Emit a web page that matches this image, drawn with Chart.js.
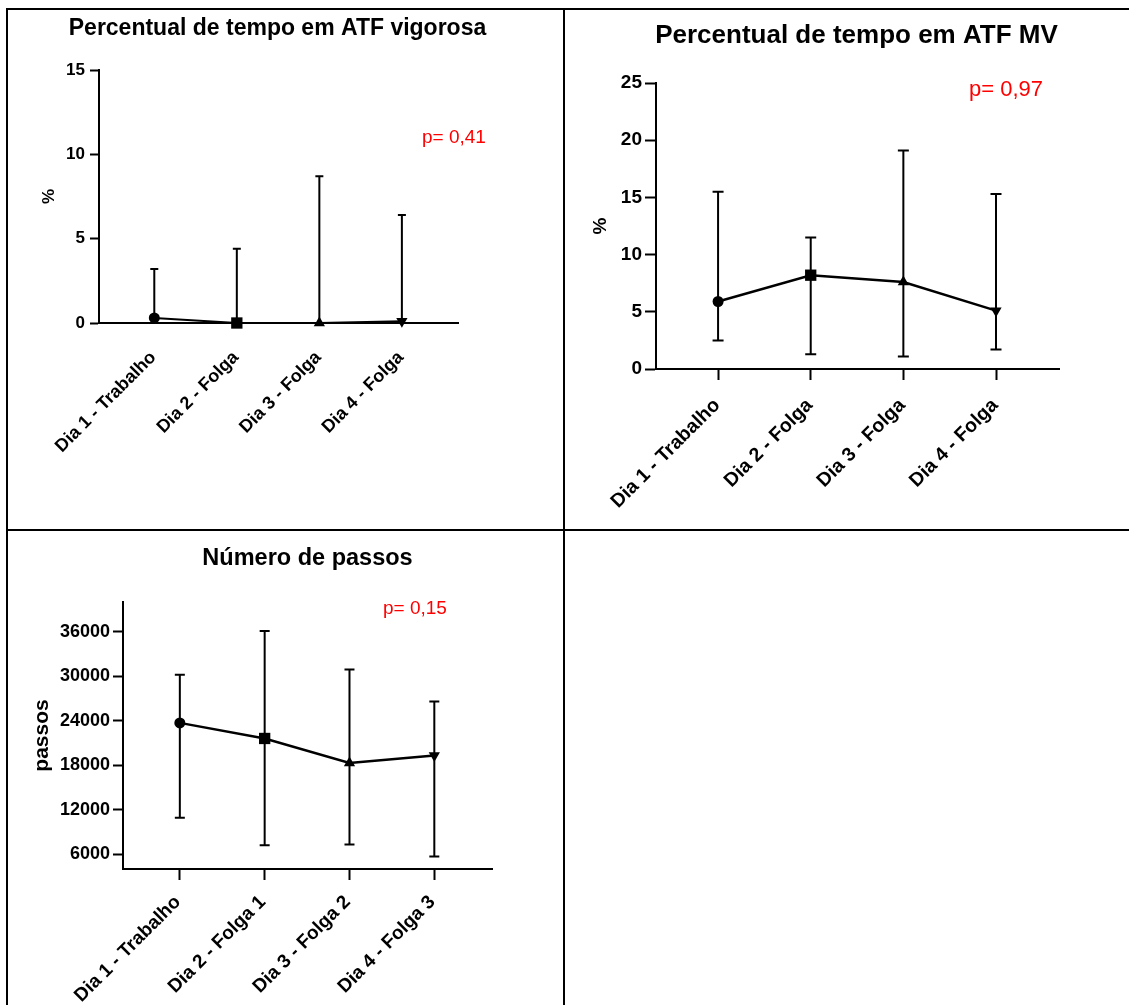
<!DOCTYPE html>
<html>
<head>
<meta charset="utf-8">
<script src="https://cdn.jsdelivr.net/npm/chart.js@4.4.0/dist/chart.umd.min.js"></script>
<style>
  html, body { margin: 0; padding: 0; background: #fff; }
  body { width: 1129px; height: 1005px; position: relative; overflow: hidden; }
  .rule { position: absolute; background: #000; }
  .cell { position: absolute; }
  canvas { display: block; }
</style>
</head>
<body>
<div class="rule" style="left:6px;top:8px;width:1123px;height:2px"></div>
<div class="rule" style="left:6px;top:8px;width:2px;height:997px"></div>
<div class="rule" style="left:563px;top:8px;width:2px;height:997px"></div>
<div class="rule" style="left:6px;top:529px;width:1123px;height:2px"></div>

<div class="cell" style="left:8px;top:10px"><canvas id="vigChart" width="555" height="519"></canvas></div>
<div class="cell" style="left:565px;top:10px"><canvas id="mvChart" width="564" height="519"></canvas></div>
<div class="cell" style="left:8px;top:531px"><canvas id="passosChart" width="555" height="474"></canvas></div>

<script>
// categories
const diasFolga = ['Dia 1 - Trabalho', 'Dia 2 - Folga', 'Dia 3 - Folga', 'Dia 4 - Folga'];
const diasPassos = ['Dia 1 - Trabalho', 'Dia 2 - Folga 1', 'Dia 3 - Folga 2', 'Dia 4 - Folga 3'];

// ATF vigorosa (%): median and range
const vigMediana = [0.3, 0, 0, 0.1];
const vigMin = [0, 0, 0, 0];
const vigMax = [3.2, 4.4, 8.7, 6.4];
const vigTicks = [0, 5, 10, 15];

// ATF MV (%)
const mvMediana = [5.9, 8.2, 7.6, 5.1];
const mvMin = [2.5, 1.3, 1.1, 1.7];
const mvMax = [15.5, 11.5, 19.1, 15.3];
const mvTicks = [0, 5, 10, 15, 20, 25];

// Numero de passos
const passosMediana = [23700, 21600, 18300, 19300];
const passosMin = [10900, 7200, 7300, 5700];
const passosMax = [30200, 36100, 30900, 26600];
const passosTicks = [6000, 12000, 18000, 24000, 30000, 36000];

const FONT = "'Liberation Sans', Arial, sans-serif";
Chart.defaults.font.family = FONT;
Chart.defaults.color = '#000';

// whiskers drawn under the markers
const errorBars = {
  id: 'errorBars',
  beforeDatasetsDraw(chart, args, opts) {
    const {ctx, scales: {x, y}} = chart;
    ctx.save();
    ctx.strokeStyle = '#000';
    ctx.lineWidth = opts.width;
    opts.low.forEach((lo, i) => {
      const px = x.getPixelForValue(i + 1);
      const yLo = y.getPixelForValue(lo);
      const yHi = y.getPixelForValue(opts.high[i]);
      ctx.beginPath();
      ctx.moveTo(px, yLo);
      ctx.lineTo(px, yHi);
      ctx.moveTo(px - opts.cap, yHi);
      ctx.lineTo(px + opts.cap, yHi);
      ctx.moveTo(px - opts.cap, yLo);
      ctx.lineTo(px + opts.cap, yLo);
      ctx.stroke();
    });
    ctx.restore();
  }
};

// panel title and p value
const panelText = {
  id: 'panelText',
  afterDraw(chart, args, opts) {
    const ctx = chart.ctx;
    ctx.save();
    ctx.textBaseline = 'alphabetic';
    ctx.fillStyle = '#000';
    ctx.textAlign = 'center';
    ctx.font = 'bold ' + opts.titleSize + 'px ' + FONT;
    ctx.fillText(opts.title, opts.titleX, opts.titleY);
    ctx.fillStyle = '#ff0000';
    ctx.textAlign = 'left';
    ctx.font = opts.pSize + 'px ' + FONT;
    ctx.fillText(opts.pText, opts.pX, opts.pY);
    ctx.restore();
  }
};

function drawPanel(id, p) {
  return new Chart(document.getElementById(id), {
    type: 'line',
    data: {
      datasets: [{
        data: p.mediana.map((v, i) => ({x: i + 1, y: v})),
        borderColor: '#000',
        backgroundColor: '#000',
        borderWidth: p.lineWidth,
        tension: 0,
        pointStyle: ['circle', 'rect', 'triangle', 'triangle'],
        pointRotation: [0, 0, 0, 180],
        pointRadius: [5.5, 8, 6.5, 6.5],
        pointBorderWidth: 0,
        clip: false
      }]
    },
    plugins: [errorBars, panelText],
    options: {
      responsive: false,
      animation: false,
      layout: {padding: {left: p.padLeft, top: p.padTop, right: p.padRight, bottom: 0}},
      plugins: {
        legend: {display: false},
        tooltip: {enabled: false},
        errorBars: {low: p.low, high: p.high, cap: p.cap, width: 2},
        panelText: p.text
      },
      scales: {
        x: {
          type: 'linear',
          min: 0.33,
          max: 4.68,
          afterBuildTicks: s => { s.ticks = p.labels.map((l, i) => ({value: i + 1})); },
          afterFit: s => { s.height = p.xHeight; s.paddingLeft = 0; s.paddingRight = 0; },
          ticks: {
            callback: v => p.labels[v - 1],
            autoSkip: false,
            maxRotation: 45,
            minRotation: 45,
            padding: p.xPad,
            labelOffset: p.xOffset,
            font: {size: p.xFont, weight: 'bold'}
          },
          grid: {drawOnChartArea: false, drawTicks: p.xTickMarks, tickLength: 11, tickWidth: 2, tickColor: '#000'},
          border: {color: '#000', width: 2}
        },
        y: {
          min: p.yMin,
          max: p.yMax,
          afterBuildTicks: s => { s.ticks = p.yTicks.map(v => ({value: v})); },
          afterFit: s => { s.width = p.yWidth; },
          ticks: {
            callback: v => String(v),
            padding: p.yPad,
            font: {size: p.yFont, weight: 'bold'}
          },
          grid: {drawOnChartArea: false, tickLength: p.yTickLen, tickWidth: 2, tickColor: '#000'},
          border: {color: '#000', width: 2},
          title: {display: true, text: p.yTitle, padding: 0, font: {size: p.yTitleSize, weight: 'bold'}}
        }
      }
    }
  });
}

drawPanel('vigChart', {
  labels: diasFolga, mediana: vigMediana, low: vigMin, high: vigMax,
  yMin: 0, yMax: 15, yTicks: vigTicks, yTitle: '%', yTitleSize: 17,
  padLeft: 31, padTop: 60, padRight: 105, yWidth: 60, xHeight: 206,
  yFont: 17, yPad: 5, yTickLen: 9, xFont: 18, xPad: 24, xOffset: -1, xTickMarks: false,
  lineWidth: 2, cap: 4,
  text: {title: 'Percentual de tempo em ATF vigorosa', titleSize: 23, titleX: 269.5, titleY: 25,
         pText: 'p= 0,41', pSize: 19, pX: 414, pY: 133}
});

drawPanel('mvChart', {
  labels: diasFolga, mediana: mvMediana, low: mvMin, high: mvMax,
  yMin: 0, yMax: 25, yTicks: mvTicks, yTitle: '%', yTitleSize: 19,
  padLeft: 24, padTop: 73, padRight: 70, yWidth: 67, xHeight: 160,
  yFont: 19, yPad: 3, yTickLen: 11, xFont: 19.5, xPad: 14, xOffset: -1, xTickMarks: true,
  lineWidth: 2.5, cap: 5.5,
  text: {title: 'Percentual de tempo em ATF MV', titleSize: 26, titleX: 291.5, titleY: 33,
         pText: 'p= 0,97', pSize: 22, pX: 404, pY: 86}
});

drawPanel('passosChart', {
  labels: diasPassos, mediana: passosMediana, low: passosMin, high: passosMax,
  yMin: 4000, yMax: 40000, yTicks: passosTicks, yTitle: 'passos', yTitleSize: 21,
  padLeft: 22, padTop: 71, padRight: 71, yWidth: 93, xHeight: 136,
  yFont: 18, yPad: 3, yTickLen: 10, xFont: 19, xPad: 11, xOffset: -2, xTickMarks: true,
  lineWidth: 2.5, cap: 5,
  text: {title: 'Número de passos', titleSize: 23.5, titleX: 299.5, titleY: 34,
         pText: 'p= 0,15', pSize: 19, pX: 375, pY: 83}
});
</script>
</body>
</html>
